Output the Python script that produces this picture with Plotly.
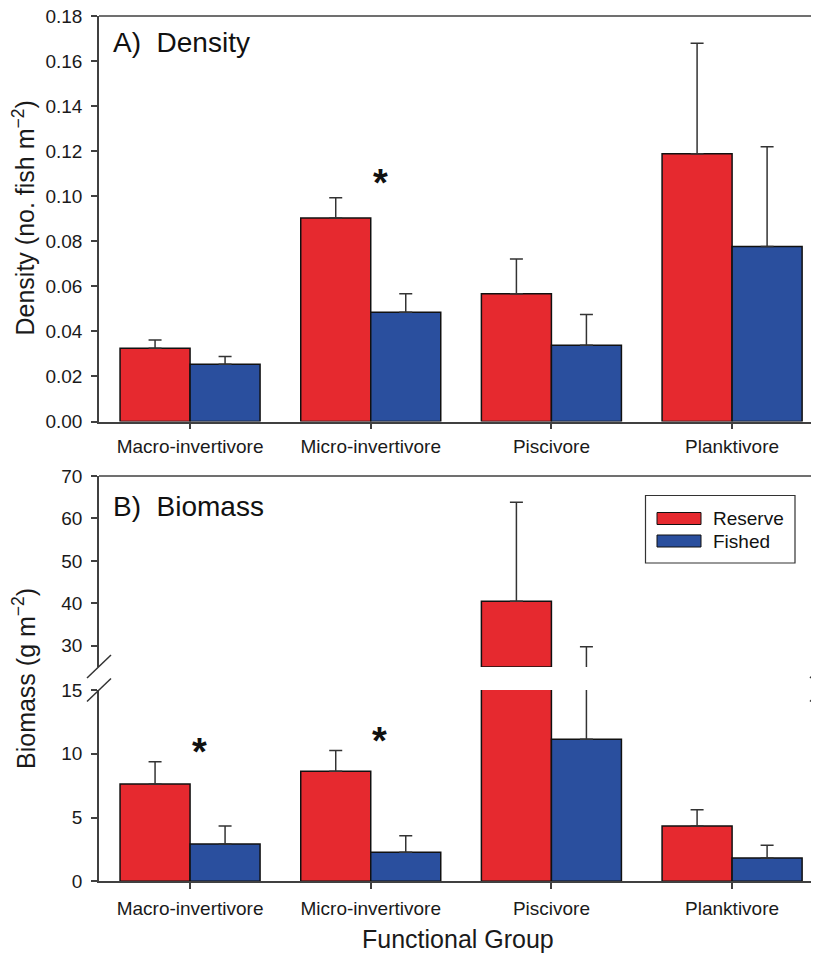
import plotly.graph_objects as go

# ---------------- data ----------------
groups = ["Macro-invertivore", "Micro-invertivore", "Piscivore", "Planktivore"]
series = ["Reserve", "Fished"]

density_reserve = [0.0325, 0.0903, 0.0567, 0.1188]
density_reserve_se = [0.0037, 0.0090, 0.0154, 0.0491]
density_fished = [0.0254, 0.0485, 0.0339, 0.0777]
density_fished_se = [0.0034, 0.0082, 0.0136, 0.0443]

biomass_reserve = [7.63, 8.63, 40.5, 4.34]
biomass_reserve_se = [1.75, 1.62, 23.3, 1.28]
biomass_fished = [2.93, 2.27, 11.14, 1.83]
biomass_fished_se = [1.41, 1.31, 18.66, 0.99]

density_ticks = [0.00, 0.02, 0.04, 0.06, 0.08, 0.10, 0.12, 0.14, 0.16, 0.18]
biomass_low_ticks = [0, 5, 10, 15]
biomass_high_ticks = [30, 40, 50, 60, 70]

sig_density = ["Micro-invertivore"]
sig_biomass = ["Macro-invertivore", "Micro-invertivore"]

# ---------------- style ----------------
# the page body has an 8px margin, so the figure is drawn 8px in from the top-left
OFF = 8
W, H = 819 - OFF, 953 - OFF
RED = "#E6292F"
BLUE = "#2A4F9E"
FONT = "Liberation Sans, Arial, sans-serif"
AX = "#404040"
colors = [RED, BLUE]

def px_x(x):
    return (x - OFF) / W

def px_y(y):
    return 1 - (y - OFF) / H

fig = go.Figure()

def add_bars(vals, ses, xa, ya):
    for name, v, s, c in zip(series, vals, ses, colors):
        fig.add_trace(go.Bar(
            x=groups, y=v, name=name, xaxis=xa, yaxis=ya,
            marker=dict(color=c, line=dict(color="#111111", width=1.5)),
            error_y=dict(type="data", array=s, arrayminus=[0] * len(s),
                         symmetric=False, color="#333333", thickness=1.5, width=6.5),
            showlegend=False,
        ))

add_bars([density_reserve, density_fished], [density_reserve_se, density_fished_se], "x", "y")
add_bars([biomass_reserve, biomass_fished], [biomass_reserve_se, biomass_fished_se], "x2", "y2")
add_bars([biomass_reserve, biomass_fished], [biomass_reserve_se, biomass_fished_se], "x3", "y3")

xdom = [px_x(99), 1.0]
# plot area in the reference runs past the right edge (to ~822px); visible part ends at 819
xrange_ = [-0.504, 3.481]
tickfont = dict(family=FONT, size=19, color="#1a1a1a")

xcommon = dict(domain=xdom, range=xrange_, showline=True, linecolor=AX, linewidth=1.5,
               ticks="outside", ticklen=6, tickcolor=AX, tickwidth=1.5,
               tickfont=tickfont, showgrid=False, zeroline=False, fixedrange=True,
               automargin=False, ticklabeloverflow="allow")
ycommon = dict(showline=True, linecolor=AX, linewidth=1.5, ticks="outside", ticklen=6,
               tickcolor=AX, tickwidth=1.5, tickfont=tickfont, showgrid=False,
               zeroline=False, ticklabelstandoff=5, automargin=False,
               ticklabeloverflow="allow")

fig.update_layout(
    template="none",
    width=W, height=H,
    margin=dict(l=0, r=0, t=0, b=0, autoexpand=False),
    paper_bgcolor="white", plot_bgcolor="white",
    barmode="group", bargap=0.225, bargroupgap=0,
    showlegend=False,
    xaxis=dict(anchor="y", ticklabelstandoff=1, **xcommon),
    yaxis=dict(domain=[px_y(421.5), px_y(16)], range=[0, 0.18], tickvals=density_ticks,
               tickformat=".2f", anchor="x", **ycommon),
    xaxis2=dict(anchor="y2", ticklabelstandoff=3, **xcommon),
    yaxis2=dict(domain=[px_y(881.3), px_y(690)], range=[0, 15], tickvals=biomass_low_ticks,
                anchor="x2", **ycommon),
    xaxis3=dict(anchor="y3", matches="x2", showticklabels=False, visible=True,
                **{k: v for k, v in xcommon.items()
                   if k not in ("ticks", "tickfont", "showline")},
                showline=False, ticks=""),
    yaxis3=dict(domain=[px_y(667), px_y(476)], range=[25, 70], tickvals=biomass_high_ticks,
                anchor="x3", **ycommon),
)

ann = []
# axis titles
ann.append(dict(text="Density (no. fish m<sup>−2</sup>)", x=px_x(24), y=px_y(218.5),
                xref="paper", yref="paper", textangle=-90, showarrow=False,
                font=dict(family=FONT, size=25, color="#1a1a1a"),
                xanchor="center", yanchor="middle"))
ann.append(dict(text="Biomass (g m<sup>−2</sup>)", x=px_x(24), y=px_y(679),
                xref="paper", yref="paper", textangle=-90, showarrow=False,
                font=dict(family=FONT, size=25, color="#1a1a1a"),
                xanchor="center", yanchor="middle"))
ann.append(dict(text="Functional Group", x=px_x(458), y=px_y(939),
                xref="paper", yref="paper", showarrow=False,
                font=dict(family=FONT, size=25, color="#1a1a1a"),
                xanchor="center", yanchor="middle"))
# panel labels
ann.append(dict(text="A)  Density", x=px_x(111), y=px_y(43), xref="paper", yref="paper",
                showarrow=False, font=dict(family=FONT, size=28, color="#111111"),
                xanchor="left", yanchor="middle"))
ann.append(dict(text="B)  Biomass", x=px_x(111), y=px_y(506), xref="paper", yref="paper",
                showarrow=False, font=dict(family=FONT, size=28, color="#111111"),
                xanchor="left", yanchor="middle"))

# significance stars
for g in sig_density:
    i = groups.index(g)
    top = density_reserve[i] + density_reserve_se[i]
    ann.append(dict(text="<b>*</b>", x=g, y=top, xref="x", yref="y", xshift=10, yshift=-8,
                    showarrow=False, font=dict(family=FONT, size=38, color="#111111"),
                    xanchor="center", yanchor="bottom"))
for g in sig_biomass:
    i = groups.index(g)
    top = biomass_reserve[i] + biomass_reserve_se[i]
    ann.append(dict(text="<b>*</b>", x=g, y=top, xref="x2", yref="y2", xshift=9, yshift=-13,
                    showarrow=False, font=dict(family=FONT, size=38, color="#111111"),
                    xanchor="center", yanchor="bottom"))

shapes = []
# top frame lines of both panels
for ty in (16, 476):
    shapes.append(dict(type="line", xref="paper", yref="paper",
                       x0=px_x(99), x1=1.0, y0=px_y(ty), y1=px_y(ty),
                       line=dict(color=AX, width=1.5)))

# legend (manual, wide swatches)
shapes.append(dict(type="rect", xref="paper", yref="paper", x0=px_x(645.5), x1=px_x(795),
                   y0=px_y(563), y1=px_y(495.5), line=dict(color="#333333", width=1.2),
                   fillcolor="white"))
for k, (name, c) in enumerate(zip(series, colors)):
    y0, y1 = [(512.5, 524.5), (535, 547)][k]
    shapes.append(dict(type="rect", xref="paper", yref="paper", x0=px_x(657), x1=px_x(701),
                       y0=px_y(y1), y1=px_y(y0), line=dict(color="#111111", width=1),
                       fillcolor=c))
    ann.append(dict(text=name, x=px_x(711), y=px_y((y0 + y1) / 2), xref="paper", yref="paper",
                    showarrow=False, font=dict(family=FONT, size=19, color="#111111"),
                    xanchor="left", yanchor="middle"))

# bottom outline of the upper (broken) piece of the tall Piscivore bar
shapes.append(dict(type="line", xref="x3", yref="y3",
                   x0=2 - 0.3875, x1=2, y0=25, y1=25,
                   line=dict(color="#111111", width=1.5)))

# axis break marks
for cx in (99, 822):
    for cy in (666.5, 690):
        shapes.append(dict(type="line", xref="paper", yref="paper",
                           x0=px_x(cx - 12), y0=px_y(cy + 11.5),
                           x1=px_x(cx + 12), y1=px_y(cy - 11.5),
                           line=dict(color="#333333", width=1.5)))

fig.update_layout(annotations=ann, shapes=shapes)
fig.write_html("out.html")
